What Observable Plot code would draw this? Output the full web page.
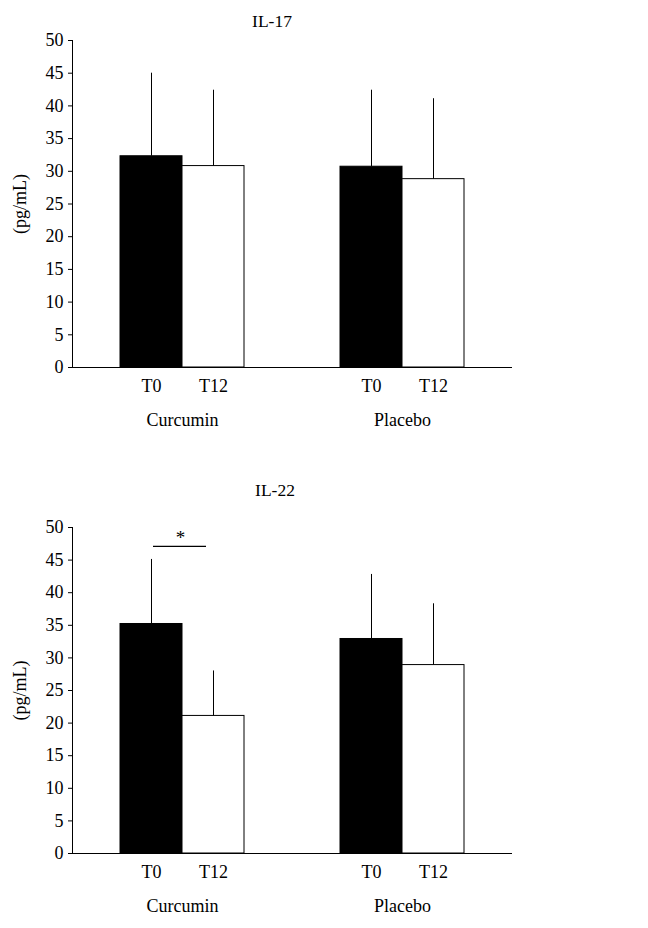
<!DOCTYPE html>
<html><head><meta charset="utf-8">
<script src="https://cdn.jsdelivr.net/npm/d3@7"></script>
<script src="https://cdn.jsdelivr.net/npm/@observablehq/plot@0.6"></script>
<style>
body{margin:0;background:#fff;}
#wrap{position:relative;width:648px;height:928px;overflow:hidden;font-family:"Liberation Serif",serif;background:#fff;}
.title{position:absolute;transform:translate(-50%,-50%);font-size:17.5px;white-space:nowrap;color:#000;}
.panel{position:absolute;left:0;width:648px;overflow:hidden;}
</style></head><body>
<div id="wrap"></div>
<script>
const groups = ["Curcumin", "Placebo"];
const times = ["T0", "T12"];
const il17Mean = [32.3, 30.8, 30.7, 28.8];
const il17Sd = [12.7, 11.6, 11.7, 12.3];
const il22Mean = [35.2, 21.1, 32.9, 28.9];
const il22Sd = [9.9, 6.9, 9.9, 9.4];
const yTicks = [0, 5, 10, 15, 20, 25, 30, 35, 40, 45, 50];
const titles = ["IL-17", "IL-22"];
const yLabel = "(pg/mL)";
const il22Sig = [{group: "Curcumin", from: "T0", to: "T12", y: 47.1, label: "*"}];

function rowsOf(means, sds) {
  const rows = [];
  groups.forEach((g, gi) => times.forEach((t, ti) => {
    const i = gi * times.length + ti;
    rows.push({group: g, time: t, mean: means[i], sd: sds[i]});
  }));
  return rows;
}

function chart(rows, sig, mTop, mBottom) {
  const marks = [
    Plot.barY(rows, {fx: "group", x: "time", y: "mean", fill: "time", stroke: "black", strokeWidth: 1}),
    Plot.ruleX(rows, {fx: "group", x: "time", y1: "mean", y2: d => d.mean + d.sd, stroke: "black", strokeWidth: 1}),
    Plot.ruleY([0], {stroke: "black", strokeWidth: 1.2}),
    Plot.frame({anchor: "left", facetAnchor: "left", stroke: "black"}),
    Plot.axisY({ticks: yTicks, tickSize: 4, tickPadding: 5, fontSize: 18, label: yLabel, labelAnchor: "center", labelArrow: "none", labelOffset: 59, tickFormat: d => String(d)}),
    Plot.axisX({tickSize: 0, tickPadding: 12, fontSize: 18, label: null}),
    Plot.axisFx({anchor: "bottom", tickSize: 0, tickPadding: 46, fontSize: 18, label: null})
  ];
  if (sig) {
    marks.push(Plot.ruleY(sig, {fx: "group", y: "y", x1: "from", x2: "to", insetLeft: 33, insetRight: 38, stroke: "black", strokeWidth: 1.2}));
    marks.push(Plot.text(sig, {fx: "group", x: "from", y: "y", text: "label", dx: 29, dy: -9, fontSize: 19}));
  }
  return Plot.plot({
    width: 648, height: 464,
    marginTop: mTop, marginBottom: mBottom, marginLeft: 72, marginRight: 136,
    style: {fontFamily: "Liberation Serif, serif", fontSize: "18px", background: "white", color: "black"},
    fx: {domain: groups, padding: 0, label: null, axis: null},
    x: {domain: times, paddingInner: 0, paddingOuter: 0.76, label: null, axis: null},
    y: {domain: [0, 50], label: null, axis: null},
    color: {domain: times, range: ["black", "white"]},
    marks
  });
}

const wrap = document.getElementById("wrap");
const p1 = document.createElement("div"); p1.className = "panel"; p1.style.top = "0px"; p1.style.height = "464px";
p1.appendChild(chart(rowsOf(il17Mean, il17Sd), null, 40, 97));
const p2 = document.createElement("div"); p2.className = "panel"; p2.style.top = "464px"; p2.style.height = "451px";
p2.appendChild(chart(rowsOf(il22Mean, il22Sd), il22Sig, 63, 75));
wrap.appendChild(p1); wrap.appendChild(p2);
[[titles[0], 272, 21], [titles[1], 275, 490]].forEach(([t, x, y]) => {
  const d = document.createElement("div"); d.className = "title"; d.textContent = t;
  d.style.left = x + "px"; d.style.top = y + "px"; wrap.appendChild(d);
});
</script>
</body></html>
